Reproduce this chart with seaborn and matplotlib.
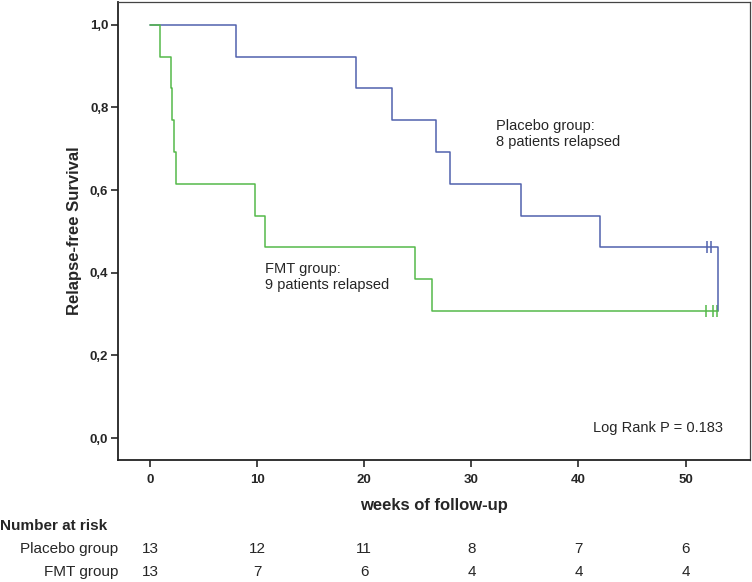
import numpy as np
import pandas as pd
import seaborn as sns
import matplotlib.pyplot as plt

# survival curves (step points)
placebo_t = [0, 8.0, 19.2, 22.6, 26.7, 28.0, 34.6, 42.0, 53.0]
placebo_s = [1.0, 0.923, 0.846, 0.769, 0.692, 0.615, 0.538, 0.462, 0.308]
fmt_t = [0, 0.9, 1.9, 2.05, 2.2, 2.4, 9.8, 10.7, 24.7, 26.3, 53.0]
fmt_s = [1.0, 0.923, 0.846, 0.769, 0.692, 0.615, 0.538, 0.462, 0.385, 0.308, 0.308]

# censored observations
placebo_cens_t = [52.0, 52.4]
placebo_cens_s = [0.462, 0.462]
fmt_cens_t = [51.9, 52.6, 52.9]
fmt_cens_s = [0.308, 0.308, 0.308]

risk_times = [0, 10, 20, 30, 40, 50]
risk_placebo = [13, 12, 11, 8, 7, 6]
risk_fmt = [13, 7, 6, 4, 4, 4]

blue = "#5162ad"
green = "#55b94a"

sns.set_style("ticks")
plt.rcParams['font.family'] = ['Liberation Sans', 'DejaVu Sans']

fig = plt.figure(figsize=(7.52, 5.82), dpi=100)
ax = fig.add_axes([0.157, 0.2096, 0.84, 0.787])

curves = pd.concat([
    pd.DataFrame({"t": placebo_t, "s": placebo_s, "grp": "Placebo"}),
    pd.DataFrame({"t": fmt_t, "s": fmt_s, "grp": "FMT"}),
])
sns.lineplot(data=curves, x="t", y="s", hue="grp", palette={"Placebo": blue, "FMT": green},
             drawstyle="steps-post", linewidth=1.1, legend=False, ax=ax, estimator=None)

sns.scatterplot(x=placebo_cens_t, y=placebo_cens_s, marker="|", s=70, color=blue,
                linewidth=1.1, ax=ax)
sns.scatterplot(x=fmt_cens_t, y=fmt_cens_s, marker="|", s=70, color=green,
                linewidth=1.1, ax=ax)

ax.set_xlim(-3, 56)
ax.set_ylim(-0.053, 1.055)
ax.set_xticks(risk_times)
ax.set_yticks([0, 0.2, 0.4, 0.6, 0.8, 1.0])
ax.set_yticklabels(["0,0", "0,2", "0,4", "0,6", "0,8", "1,0"])
ax.tick_params(axis="both", direction="out", length=5, width=1.2, labelsize=9.5)
for lab in ax.get_xticklabels() + ax.get_yticklabels():
    lab.set_fontweight("bold")
ax.tick_params(axis="x", pad=5)
ax.tick_params(axis="y", pad=2)

for side in ["left", "bottom"]:
    ax.spines[side].set_linewidth(1.3)
    ax.spines[side].set_color("#222222")
for side in ["top", "right"]:
    ax.spines[side].set_linewidth(0.9)
    ax.spines[side].set_color("#444444")

ax.set_xlabel("weeks of follow-up", fontsize=12, fontweight="bold", labelpad=9)
ax.set_ylabel("Relapse-free Survival", fontsize=12, fontweight="bold", labelpad=6)

ax.text(32.3, 0.735, "Placebo group:\n8 patients relapsed", fontsize=10.5,
        linespacing=1.15, va="center")
ax.text(10.7, 0.39, "FMT group:\n9 patients relapsed", fontsize=10.5,
        linespacing=1.15, va="center")
ax.text(53.5, 0.025, "Log Rank P = 0.183", fontsize=10.5, ha="right", va="center")

# number at risk table
tr = ax.get_xaxis_transform()
fig.text(0.0, 1 - 526 / 582, "Number at risk", fontsize=11, fontweight="bold", va="center")
fig.text(118 / 752, 1 - 549 / 582, "Placebo group", fontsize=11, ha="right", va="center")
fig.text(118 / 752, 1 - 572 / 582, "FMT group", fontsize=11, ha="right", va="center")
for t, a, b in zip(risk_times, risk_placebo, risk_fmt):
    ax.text(t, -(549 - 460) / 458, str(a), transform=tr, fontsize=11, ha="center",
            va="center", clip_on=False)
    ax.text(t, -(572 - 460) / 458, str(b), transform=tr, fontsize=11, ha="center",
            va="center", clip_on=False)

fig.savefig("out.png", dpi=100)
